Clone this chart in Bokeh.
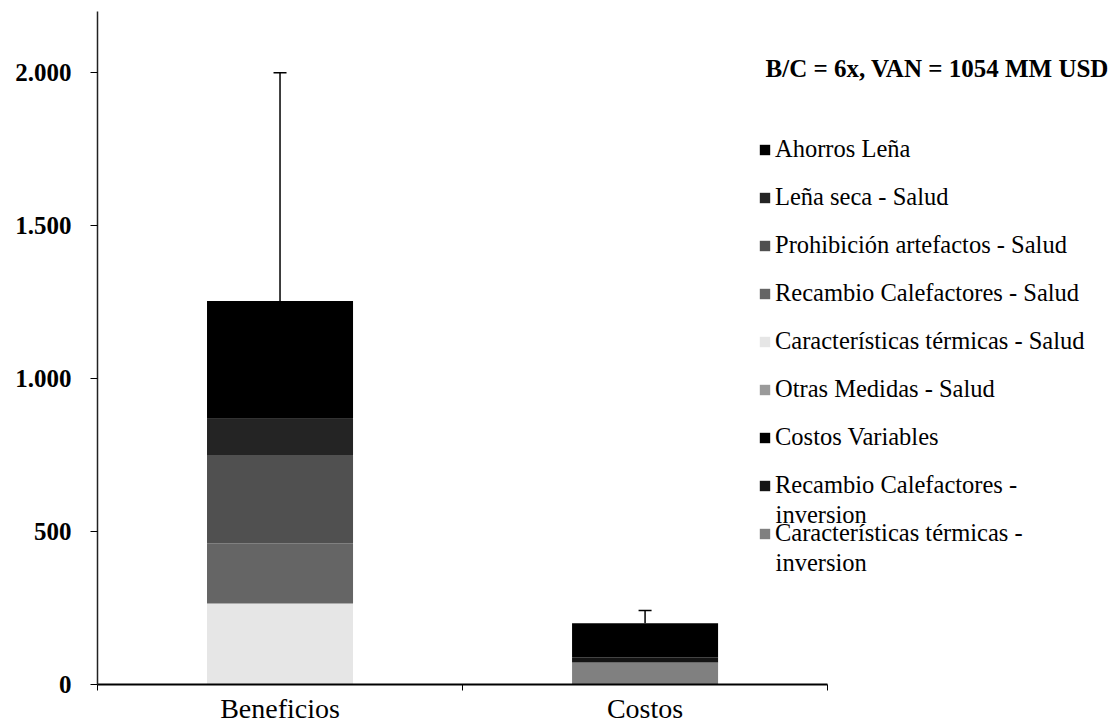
from bokeh.plotting import figure
from bokeh.models import (ColumnDataSource, Range1d, FixedTicker, Legend, LegendItem,
                          Whisker, TeeHead, Label)
from bokeh.embed import file_html
from bokeh.resources import INLINE

# ---------------- data ----------------
categories = ["Beneficios", "Costos"]

# stack order bottom -> top
series_names = [
    "Características térmicas - inversion",
    "Recambio Calefactores - inversion",
    "Costos Variables",
    "Otras Medidas - Salud",
    "Características térmicas - Salud",
    "Recambio Calefactores - Salud",
    "Prohibición artefactos - Salud",
    "Leña seca - Salud",
    "Ahorros Leña",
]
ct_inversion = [0, 72]
rc_inversion = [0, 16]
costos_variables = [0, 112]
otras_salud = [0, 0]
ct_salud = [265, 0]
rc_salud = [196, 0]
prohibicion_salud = [287, 0]
lena_seca_salud = [121, 0]
ahorros_lena = [385, 0]
error_upper = [2000, 242]

y_ticks = [0, 500, 1000, 1500, 2000]
y_tick_labels = ["0", "500", "1.000", "1.500", "2.000"]
title_text = "B/C = 6x, VAN = 1054 MM USD"

series_values = [ct_inversion, rc_inversion, costos_variables, otras_salud, ct_salud,
                 rc_salud, prohibicion_salud, lena_seca_salud, ahorros_lena]
colors = ["#808080", "#141414", "#000000", "#9a9a9a", "#e6e6e6",
          "#656565", "#505050", "#242424", "#000000"]

FONT = "Liberation Serif"

xs = [i + 0.5 for i in range(len(categories))]
keys = ["s%d" % i for i in range(len(series_names))]
data = {"x": xs, "cat": categories}
for k, v in zip(keys, series_values):
    data[k] = v
tops = [sum(vals[i] for vals in series_values) for i in range(len(categories))]
data["top"] = tops
data["upper"] = error_upper
source = ColumnDataSource(data)

p = figure(width=1110, height=726, output_backend="svg", toolbar_location=None,
           x_range=Range1d(0, 2.775), y_range=Range1d(0, 2200),
           min_border_left=97, min_border_right=0, min_border_top=11,
           min_border_bottom=42)
p.outline_line_color = None
p.xgrid.visible = False
p.ygrid.visible = False
p.background_fill_color = "white"

renderers = p.vbar_stack(keys, x="x", width=0.4, source=source, color=colors,
                         line_color=None)

w = Whisker(base="x", lower="top", upper="upper", source=source,
            upper_head=TeeHead(size=13, line_width=1.5, line_color="black"),
            lower_head=None, line_width=1.5, line_color="black")
p.add_layout(w)

# axes
ya = p.yaxis[0]
ya.ticker = FixedTicker(ticks=y_ticks, minor_ticks=[])
ya.major_label_overrides = {t: l for t, l in zip(y_ticks, y_tick_labels)}
ya.major_label_text_font = FONT
ya.major_label_text_font_size = "25px"
ya.major_label_text_font_style = "bold"
ya.major_label_text_color = "black"
ya.major_label_standoff = 19
ya.major_tick_out = 7
ya.major_tick_in = 0
ya.axis_line_width = 1.5
ya.axis_line_color = "#222222"

xa = p.xaxis[0]
xa.bounds = (0, len(categories))
xa.ticker = FixedTicker(ticks=xs, minor_ticks=list(range(len(categories) + 1)))
xa.major_label_overrides = {x: c for x, c in zip(xs, categories)}
xa.major_label_text_font = FONT
xa.major_label_text_font_size = "28px"
xa.major_label_text_color = "black"
xa.major_label_standoff = 2
xa.major_tick_line_color = None
xa.minor_tick_out = 6
xa.minor_tick_in = 0
xa.axis_line_width = 2
xa.axis_line_color = "black"

# legend (top of stack first); wrapped labels continue on a second line below
items = []
continuations = []
for name, r in reversed(list(zip(series_names, renderers))):
    if name.endswith(" - inversion"):
        first, rest = name.rsplit(" ", 1)
        items.append(LegendItem(label=first, renderers=[r]))
        continuations.append(rest)
    else:
        items.append(LegendItem(label=name, renderers=[r]))

legend = Legend(items=items, location=(661, 137), orientation="vertical",
                border_line_color=None, background_fill_alpha=0,
                padding=0, margin=0, spacing=20, glyph_width=13, glyph_height=13,
                label_standoff=4, label_height=28,
                label_text_font=FONT, label_text_font_size="24.5px",
                label_text_color="black")
p.add_layout(legend)

for txt, yy in zip(continuations, [556, 399]):
    p.add_layout(Label(x=1.8575, y=yy, text=txt, text_font=FONT,
                       text_font_size="24.5px", text_baseline="middle",
                       text_color="black"))

title = Label(x=1.830, y=2013, text=title_text, text_font=FONT,
              text_font_size="25px", text_font_style="bold",
              text_baseline="middle", text_color="black")
p.add_layout(title)

open("out.html", "w").write(file_html(p, INLINE))
